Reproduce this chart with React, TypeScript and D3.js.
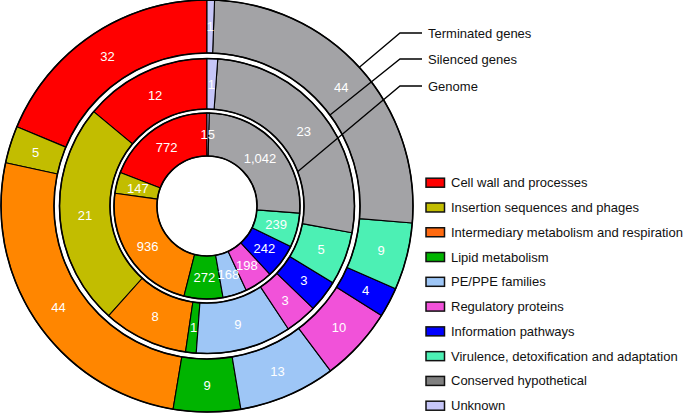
import { useEffect, useRef } from 'react';
import * as d3 from 'd3';

const WIDTH = 685;
const HEIGHT = 413;
const CX = 207;
const CY = 206;
const FONT = '"Liberation Sans", Arial, Helvetica, sans-serif';

// categories, in legend order (drawn counter-clockwise from 12 o'clock)
const categories = [
  'Cell wall and processes',
  'Insertion sequences and phages',
  'Intermediary metabolism and respiration',
  'Lipid metabolism',
  'PE/PPE families',
  'Regulatory proteins',
  'Information pathways',
  'Virulence, detoxification and adaptation',
  'Conserved hypothetical',
  'Unknown',
];

const sliceColors = [
  '#ff0000', '#c2bd00', '#ff8600', '#00b400', '#9ec6f6',
  '#f152d9', '#0000ff', '#4cf0b4', '#a3a3a6', '#c6c6f8',
];
const legendColors = [
  '#ff0000', '#c2bd00', '#ff6a10', '#00b400', '#9ec6f6',
  '#f152d9', '#0000ff', '#4cf0b4', '#808080', '#c6c6f8',
];

const genome = [772, 147, 936, 272, 168, 198, 242, 239, 1042, 15];
const silenced = [12, 21, 8, 1, 9, 3, 3, 5, 23, 1];
const terminated = [32, 5, 44, 9, 13, 10, 4, 9, 44, 1];

const rings = [
  { name: 'Genome', values: genome, inner: 50, outer: 93 },
  { name: 'Silenced genes', values: silenced, inner: 97, outer: 147.5 },
  { name: 'Terminated genes', values: terminated, inner: 153, outer: 206 },
];

// callout: which ring it points at, angle (deg, clockwise from top) where it touches
const callouts = [
  { label: 'Terminated genes', ring: 2, radius: 206, angle: 47.7, labelY: 33 },
  { label: 'Silenced genes', ring: 1, radius: 153, angle: 53.5, labelY: 59 },
  { label: 'Genome', ring: 0, radius: 96.5, angle: 69.3, labelY: 86 },
];

function drawChart(svgEl: SVGSVGElement) {
  const svg = d3.select(svgEl);
  svg.selectAll('*').remove();

  const g = svg.append('g').attr('transform', `translate(${CX},${CY})`);

  const pie = d3.pie<number>()
    .sort(null)
    .value((d) => d)
    .startAngle(0)
    .endAngle(-2 * Math.PI);

  rings.forEach((ring) => {
    const arc = d3.arc<d3.PieArcDatum<number>>()
      .innerRadius(ring.inner)
      .outerRadius(ring.outer);
    const arcs = pie(ring.values);
    const rg = g.append('g').attr('class', 'ring');

    rg.selectAll('path')
      .data(arcs)
      .join('path')
      .attr('d', arc)
      .attr('fill', (_, i) => sliceColors[i])
      .attr('stroke', '#000')
      .attr('stroke-width', 1.1)
      .attr('stroke-linejoin', 'round');

    // ring edges a bit heavier
    [ring.inner, ring.outer].forEach((r) => {
      rg.append('circle')
        .attr('r', r)
        .attr('fill', 'none')
        .attr('stroke', '#000')
        .attr('stroke-width', 1.6);
    });

    rg.selectAll('text')
      .data(arcs)
      .join('text')
      .attr('transform', (d) => {
        const [x, y] = arc.centroid(d);
        return `translate(${x},${y})`;
      })
      .attr('text-anchor', 'middle')
      .attr('dy', '0.36em')
      .attr('fill', '#fff')
      .attr('font-family', FONT)
      .attr('font-size', 13)
      .text((d) => d3.format(',')(d.data));
  });

  // callout lines
  const elbowX = 400;
  const lineEndX = 422;
  const co = svg.append('g').attr('class', 'callouts');
  callouts.forEach((c) => {
    const a = (c.angle * Math.PI) / 180;
    const sx = CX + c.radius * Math.sin(a);
    const sy = CY - c.radius * Math.cos(a);
    co.append('path')
      .attr('d', `M${sx},${sy}L${elbowX},${c.labelY}L${lineEndX},${c.labelY}`)
      .attr('fill', 'none')
      .attr('stroke', '#000')
      .attr('stroke-width', 1.3);
    co.append('text')
      .attr('x', 428)
      .attr('y', c.labelY)
      .attr('dy', '0.35em')
      .attr('font-family', FONT)
      .attr('font-size', 13)
      .attr('fill', '#111')
      .text(c.label);
  });

  // legend
  const legendY = d3.scalePoint<string>()
    .domain(categories)
    .range([182.7, 405.7]);
  const legend = svg.append('g').attr('class', 'legend');
  const item = legend.selectAll('g')
    .data(categories)
    .join('g')
    .attr('transform', (d) => `translate(426,${legendY(d)})`);
  item.append('rect')
    .attr('x', 0)
    .attr('y', -4.5)
    .attr('width', 18.5)
    .attr('height', 9)
    .attr('fill', (_, i) => legendColors[i])
    .attr('stroke', '#111')
    .attr('stroke-width', 1.5);
  item.append('text')
    .attr('x', 25)
    .attr('y', 0)
    .attr('dy', '0.35em')
    .attr('font-family', FONT)
    .attr('font-size', 13)
    .attr('fill', '#111')
    .text((d) => d);
}

export default function App() {
  const svgRef = useRef<SVGSVGElement>(null);

  useEffect(() => {
    if (!svgRef.current) return;
    drawChart(svgRef.current);
  }, []);

  return (
    <div style={{ position: 'absolute', left: 0, top: 0, width: WIDTH, height: HEIGHT, background: '#fff' }}>
      <svg ref={svgRef} width={WIDTH} height={HEIGHT} style={{ display: 'block' }} />
    </div>
  );
}
